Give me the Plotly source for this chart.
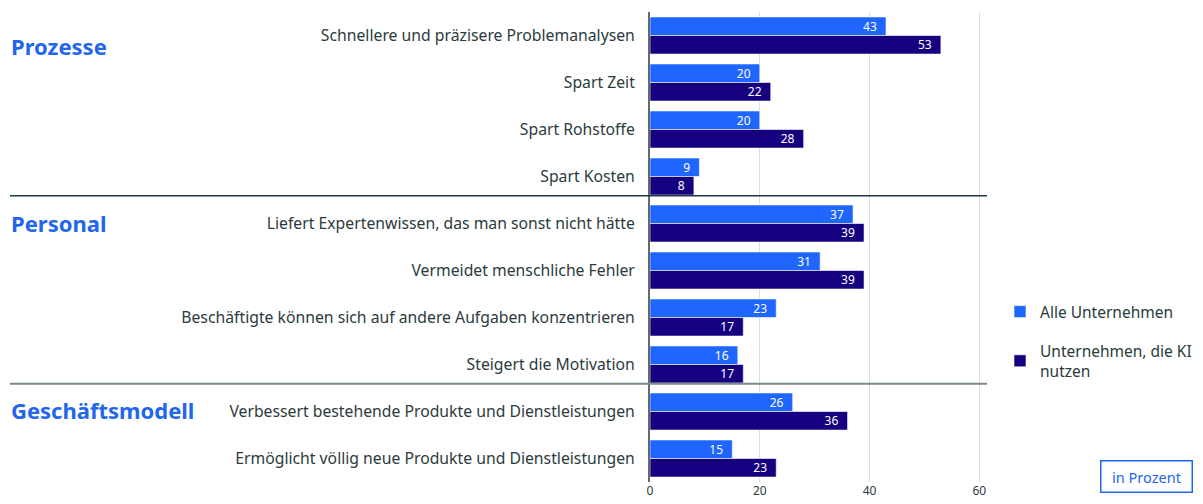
import plotly.graph_objects as go

categories = [
    "Schnellere und präzisere Problemanalysen",
    "Spart Zeit",
    "Spart Rohstoffe",
    "Spart Kosten",
    "Liefert Expertenwissen, das man sonst nicht hätte",
    "Vermeidet menschliche Fehler",
    "Beschäftigte können sich auf andere Aufgaben konzentrieren",
    "Steigert die Motivation",
    "Verbessert bestehende Produkte und Dienstleistungen",
    "Ermöglicht völlig neue Produkte und Dienstleistungen",
]
alle = [43, 20, 20, 9, 37, 31, 23, 16, 26, 15]
ki = [53, 22, 28, 8, 39, 39, 17, 17, 36, 23]
series_names = ["Alle Unternehmen", "Unternehmen, die KI<br>nutzen"]
group_labels = ["Prozesse", "Personal", "Geschäftsmodell"]
x_ticks = [0, 20, 40, 60]

FONT = "Noto Sans"
C_LIGHT = "#1f66ff"
C_DARK = "#170080"
TXT = "#2b3a3c"
BLUE_TXT = "#2266ee"

OFF = 8  # browser body margin
W, H = 1195, 496
# desired page-pixel plot box: x 650..987, y 12..482
PL, PR, PT, PB = 650, 987, 12, 482
L = PL - OFF
T = PT - OFF
R = W - (PR - OFF)
B = H - (PB - OFF)
plot_w = PR - PL
plot_h = PB - PT

def px_x(px):
    return (px - PL) / plot_w

def px_y(py):
    return (PB - py) / plot_h

fig = go.Figure()
for name, vals, col in [(series_names[0], alle, C_LIGHT), (series_names[1], ki, C_DARK)]:
    fig.add_trace(go.Bar(
        y=categories, x=vals, orientation="h", name=name,
        marker=dict(color=col, line=dict(color="rgba(255,255,255,0.6)", width=1)),
        text=[f"{v}\u00a0\u00a0" for v in vals], textposition="inside",
        insidetextanchor="end", textangle=0, constraintext="none",
        insidetextfont=dict(color="white", size=12, family=FONT),
        legendgroup=name,
    ))

shapes = [
    dict(type="line", xref="paper", yref="y", x0=px_x(10), x1=px_x(987),
         y0=3.41, y1=3.41, line=dict(color="#1d3c45", width=1.3)),
    dict(type="line", xref="paper", yref="y", x0=px_x(10), x1=px_x(987),
         y0=7.41, y1=7.41, line=dict(color="#7b8a8c", width=1.8)),
]

annotations = []
for lbl, py in zip(group_labels, [46, 223, 410]):
    annotations.append(dict(
        text=f"<b>{lbl}</b>", xref="paper", yref="paper", x=px_x(9), y=px_y(py),
        xanchor="left", yanchor="middle", showarrow=False,
        font=dict(family=FONT, size=22, color=BLUE_TXT),
    ))
annotations.append(dict(
    text="in Prozent", xref="paper", yref="paper", x=px_x(1146), y=px_y(476),
    xanchor="center", yanchor="middle", showarrow=False,
    font=dict(family=FONT, size=14.5, color=BLUE_TXT),
    bordercolor=BLUE_TXT, borderwidth=1.5, borderpad=6, width=78, height=18,
    bgcolor="white",
))

fig.update_layout(
    width=W, height=H,
    margin=dict(l=L, r=R, t=T, b=B, autoexpand=False),
    paper_bgcolor="white", plot_bgcolor="white",
    barmode="group", bargap=0.21, bargroupgap=0,
    font=dict(family=FONT, size=15.75, color=TXT),
    shapes=shapes, annotations=annotations,
    legend=dict(x=px_x(1000), y=px_y(295), xanchor="left", yanchor="top",
                font=dict(family=FONT, size=15.5, color=TXT),
                tracegroupgap=16, traceorder="grouped", itemwidth=30,
                bgcolor="rgba(0,0,0,0)"),
)
fig.update_xaxes(range=[0, 61.4], tickvals=x_ticks, showgrid=True, gridcolor="#dddddd",
                 gridwidth=1, zeroline=False, showline=False, ticks="",
                 tickfont=dict(size=12, color=TXT, family=FONT), fixedrange=True)
fig.update_yaxes(autorange="reversed", showline=True, linecolor="#5f6b6d", linewidth=2,
                 ticks="", ticklabelstandoff=10,
                 tickfont=dict(size=15.75, color=TXT, family=FONT), fixedrange=True)

fig.write_html("out.html")
